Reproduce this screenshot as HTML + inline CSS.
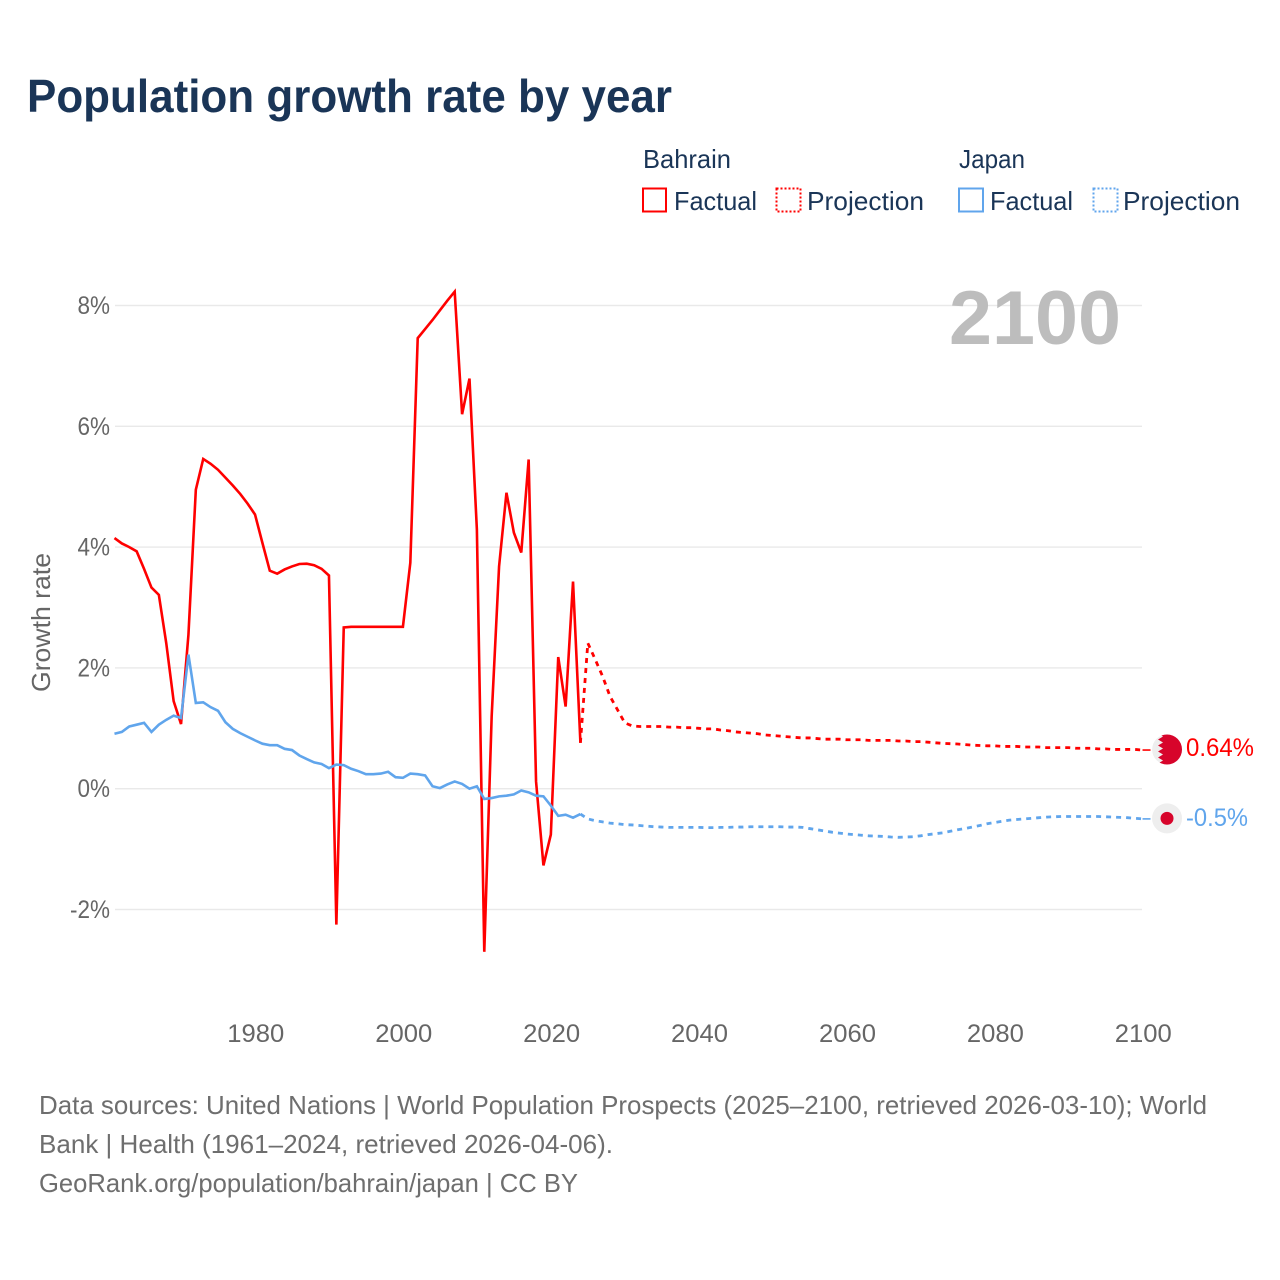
<!DOCTYPE html>
<html lang="en">
<head>
<meta charset="utf-8">
<title>Population growth rate by year</title>
<style>
html,body{margin:0;padding:0;background:#fff;}
svg{display:block;font-family:"Liberation Sans",sans-serif;}
.tick{font-size:25px;fill:#666;}
.legend{font-size:26px;fill:#1a3557;}
.src{font-size:26px;fill:#6e6e6e;}
</style>
</head>
<body>
<svg id="chart" xmlns="http://www.w3.org/2000/svg" width="1280" height="1280" viewBox="0 0 1280 1280">
  <rect width="1280" height="1280" fill="#fff"/>
  <text x="27" y="112" font-size="46" font-weight="700" fill="#1a3557" textLength="645" lengthAdjust="spacingAndGlyphs">Population growth rate by year</text>

  <g>
    <text class="legend" x="643" y="168" textLength="88" lengthAdjust="spacingAndGlyphs">Bahrain</text>
    <text class="legend" x="959" y="168" textLength="66" lengthAdjust="spacingAndGlyphs">Japan</text>
    <rect x="643" y="188.5" width="23" height="23" fill="none" stroke="#ff0000" stroke-width="2"/>
    <text class="legend" x="674" y="210" textLength="83" lengthAdjust="spacingAndGlyphs">Factual</text>
    <rect x="776.5" y="188.5" width="24" height="23" fill="none" stroke="#ff0000" stroke-width="2" stroke-dasharray="2 2"/>
    <text class="legend" x="807" y="210" textLength="117" lengthAdjust="spacingAndGlyphs">Projection</text>
    <rect x="959" y="188.5" width="24" height="23" fill="none" stroke="#60a5ec" stroke-width="2"/>
    <text class="legend" x="990" y="210" textLength="83" lengthAdjust="spacingAndGlyphs">Factual</text>
    <rect x="1093.5" y="188.5" width="24" height="23" fill="none" stroke="#60a5ec" stroke-width="2" stroke-dasharray="2 2"/>
    <text class="legend" x="1123" y="210" textLength="117" lengthAdjust="spacingAndGlyphs">Projection</text>
  </g>

  <g id="grid"></g>
  <g id="yticks"></g>
  <g id="xticks"></g>
  <text class="tick" transform="translate(50,692) rotate(-90)" x="0" y="0" textLength="139" lengthAdjust="spacingAndGlyphs" style="font-size:26px">Growth rate</text>

  <text x="949" y="344" font-size="76" font-weight="700" fill="#bdbdbd" textLength="172" lengthAdjust="spacingAndGlyphs">2100</text>

  <g id="series"></g>

  <defs>
    <clipPath id="flag-clip"><circle cx="0" cy="0" r="15"/></clipPath>
  </defs>
  <g id="flag-bahrain">
    <g clip-path="url(#flag-clip)">
      <circle cx="0" cy="0" r="15" fill="#eeeeee"/>
      <polygon fill="#d7042b" points="16,-16 -9,-16 -4,-13 -9,-10 -4,-7 -9,-4 -4,-1 -9,2 -4,5 -9,8 -4,11 -9,14 -4,16 16,16"/>
    </g>
  </g>
  <g id="flag-japan">
    <circle cx="0" cy="0" r="15" fill="#eeeeee"/>
    <circle cx="0" cy="0" r="6.5" fill="#d7042b"/>
  </g>
  <text id="end-label-bahrain" x="1186" font-size="25" fill="#ff0000" textLength="68" lengthAdjust="spacingAndGlyphs"></text>
  <text id="end-label-japan" x="1186" font-size="25" fill="#60a5ec" textLength="62" lengthAdjust="spacingAndGlyphs"></text>

  <g>
    <text class="src" x="39" y="1114" textLength="1168" lengthAdjust="spacingAndGlyphs">Data sources: United Nations | World Population Prospects (2025–2100, retrieved 2026-03-10); World</text>
    <text class="src" x="39" y="1153" textLength="574" lengthAdjust="spacingAndGlyphs">Bank | Health (1961–2024, retrieved 2026-04-06).</text>
    <text class="src" x="39" y="1192" textLength="539" lengthAdjust="spacingAndGlyphs">GeoRank.org/population/bahrain/japan | CC BY</text>
  </g>
</svg>

<script>
const factualYears = [1961,1962,1963,1964,1965,1966,1967,1968,1969,1970,1971,1972,1973,1974,1975,1976,1977,1978,1979,1980,1981,1982,1983,1984,1985,1986,1987,1988,1989,1990,1991,1992,1993,1994,1995,1996,1997,1998,1999,2000,2001,2002,2003,2004,2005,2006,2007,2008,2009,2010,2011,2012,2013,2014,2015,2016,2017,2018,2019,2020,2021,2022,2023,2024];
const projectionYears = [2025,2026,2027,2028,2029,2030,2031,2032,2033,2034,2035,2036,2037,2038,2039,2040,2041,2042,2043,2044,2045,2046,2047,2048,2049,2050,2051,2052,2053,2054,2055,2056,2057,2058,2059,2060,2061,2062,2063,2064,2065,2066,2067,2068,2069,2070,2071,2072,2073,2074,2075,2076,2077,2078,2079,2080,2081,2082,2083,2084,2085,2086,2087,2088,2089,2090,2091,2092,2093,2094,2095,2096,2097,2098,2099,2100];
const bahrainFactual = [4.15,4.06,4.0,3.93,3.64,3.33,3.21,2.41,1.45,1.07,2.55,4.95,5.46,5.38,5.28,5.15,5.02,4.88,4.72,4.54,4.07,3.61,3.56,3.63,3.68,3.72,3.725,3.70,3.64,3.53,-2.25,2.67,2.68,2.68,2.68,2.68,2.68,2.68,2.68,2.68,3.74,7.46,7.61,7.76,7.92,8.08,8.23,6.2,6.79,4.29,-2.70,1.2,3.68,4.9,4.24,3.91,5.45,0.12,-1.27,-0.76,2.18,1.36,3.43,0.76];
const bahrainProjection = [2.41,2.14,1.86,1.53,1.31,1.09,1.04,1.03,1.03,1.03,1.03,1.02,1.02,1.01,1.01,1.0,0.99,0.99,0.97,0.96,0.94,0.93,0.92,0.91,0.89,0.88,0.87,0.86,0.85,0.84,0.84,0.83,0.82,0.82,0.82,0.81,0.81,0.81,0.80,0.80,0.80,0.80,0.79,0.79,0.78,0.78,0.77,0.76,0.75,0.745,0.74,0.73,0.72,0.715,0.71,0.71,0.70,0.70,0.70,0.69,0.69,0.69,0.68,0.68,0.68,0.68,0.67,0.67,0.67,0.66,0.66,0.65,0.65,0.65,0.65,0.64];
const japanFactual = [0.91,0.94,1.03,1.06,1.09,0.94,1.06,1.14,1.21,1.17,2.22,1.42,1.43,1.35,1.29,1.10,0.99,0.92,0.86,0.80,0.745,0.72,0.72,0.66,0.64,0.55,0.49,0.435,0.41,0.34,0.40,0.39,0.33,0.29,0.24,0.24,0.25,0.28,0.19,0.18,0.25,0.24,0.22,0.04,0.01,0.07,0.12,0.08,0.0,0.04,-0.17,-0.155,-0.127,-0.116,-0.094,-0.03,-0.06,-0.116,-0.127,-0.28,-0.45,-0.43,-0.48,-0.42];
const japanProjection = [-0.50,-0.53,-0.55,-0.57,-0.58,-0.595,-0.60,-0.61,-0.62,-0.63,-0.635,-0.64,-0.64,-0.64,-0.64,-0.64,-0.645,-0.645,-0.64,-0.64,-0.635,-0.635,-0.63,-0.63,-0.63,-0.63,-0.63,-0.635,-0.635,-0.64,-0.66,-0.68,-0.70,-0.72,-0.735,-0.75,-0.76,-0.77,-0.78,-0.785,-0.79,-0.80,-0.805,-0.80,-0.795,-0.78,-0.76,-0.745,-0.73,-0.705,-0.68,-0.66,-0.635,-0.61,-0.58,-0.56,-0.54,-0.52,-0.51,-0.50,-0.49,-0.48,-0.47,-0.465,-0.46,-0.46,-0.46,-0.46,-0.46,-0.46,-0.465,-0.47,-0.475,-0.48,-0.49,-0.50];
const xTickValues = [1980,2000,2020,2040,2060,2080,2100];
const yTickValues = [8,6,4,2,0,-2];
const bahrainEndLabel = "0.64%";
const japanEndLabel = "-0.5%";

const NS = "http://www.w3.org/2000/svg";
const COLOR_BAHRAIN = "#ff0000";
const COLOR_JAPAN = "#60a5ec";
function xScale(year){ return 255 + (year - 1980) * 7.396; }
function yScale(v){ return 788.7 - v * 60.4; }
function pathFrom(years, vals){
  return years.map(function(y,i){ return (i ? "L" : "M") + xScale(y).toFixed(2) + " " + yScale(vals[i]).toFixed(2); }).join("");
}

const grid = document.getElementById("grid");
const yticks = document.getElementById("yticks");
yTickValues.forEach(function(v){
  const line = document.createElementNS(NS, "line");
  
  
  line.setAttribute("x1", 115);
  line.setAttribute("x2", 1142);
  line.setAttribute("y1", yScale(v));
  line.setAttribute("y2", yScale(v));
  line.setAttribute("stroke", "#e9e9e9");
  line.setAttribute("stroke-width", 1.4);
  grid.appendChild(line);
  const t = document.createElementNS(NS, "text");
  
  
  t.setAttribute("class", "tick");
  t.setAttribute("x", 110);
  t.setAttribute("y", yScale(v) + 8.5);
  t.setAttribute("text-anchor", "end");
  t.textContent = v + "%";
  yticks.appendChild(t);
  t.setAttribute("textLength", (t.getComputedTextLength() * 0.9).toFixed(1));
  t.setAttribute("lengthAdjust", "spacingAndGlyphs");
});

const xticks = document.getElementById("xticks");
xTickValues.forEach(function(v){
  const t = document.createElementNS(NS, "text");
  
  
  t.setAttribute("class", "tick");
  t.setAttribute("x", xScale(v) + 0.8);
  t.setAttribute("y", 1042);
  t.setAttribute("text-anchor", "middle");
  t.setAttribute("textLength", "57");
  t.setAttribute("lengthAdjust", "spacingAndGlyphs");
  t.textContent = v;
  xticks.appendChild(t);
});

const seriesGroup = document.getElementById("series");
function addLine(name, d, color, width, dash){
  const p = document.createElementNS(NS, "path");
  
  
  p.setAttribute("d", d);
  p.setAttribute("fill", "none");
  p.setAttribute("stroke", color);
  p.setAttribute("stroke-width", width);
  p.setAttribute("stroke-linejoin", "miter");
  if (dash) p.setAttribute("stroke-dasharray", dash);
  seriesGroup.appendChild(p);
}
const lastFactualYear = factualYears[factualYears.length - 1];
const lastProjectionYear = projectionYears[projectionYears.length - 1];
const bahrainLast = bahrainProjection[bahrainProjection.length - 1];
const japanLast = japanProjection[japanProjection.length - 1];

addLine("bahrain-factual-line", pathFrom(factualYears, bahrainFactual), COLOR_BAHRAIN, 2.6, null);
addLine("bahrain-projection-line", pathFrom([lastFactualYear].concat(projectionYears), [bahrainFactual[bahrainFactual.length - 1]].concat(bahrainProjection)), COLOR_BAHRAIN, 2.8, "5 5");
addLine("japan-factual-line", pathFrom(factualYears, japanFactual), COLOR_JAPAN, 2.6, null);
addLine("japan-projection-line", pathFrom([lastFactualYear].concat(projectionYears), [japanFactual[japanFactual.length - 1]].concat(japanProjection)), COLOR_JAPAN, 2.8, "5 5");

const endX = xScale(lastProjectionYear);
addLine("bahrain-leader-line", "M" + endX + " " + yScale(bahrainLast) + "H" + (endX + 8), COLOR_BAHRAIN, 1.6, null);
addLine("japan-leader-line", "M" + endX + " " + yScale(japanLast) + "H" + (endX + 8), COLOR_JAPAN, 1.6, null);

document.getElementById("flag-bahrain").setAttribute("transform", "translate(" + (endX + 24.5) + "," + (yScale(bahrainLast) - 0.5) + ")");
document.getElementById("flag-japan").setAttribute("transform", "translate(" + (endX + 24.5) + "," + (yScale(japanLast) - 0.5) + ")");
const lb = document.getElementById("end-label-bahrain");
lb.setAttribute("y", yScale(bahrainLast) + 6);
lb.textContent = bahrainEndLabel;
const lj = document.getElementById("end-label-japan");
lj.setAttribute("y", yScale(japanLast) + 7);
lj.textContent = japanEndLabel;
</script>
</body>
</html>
